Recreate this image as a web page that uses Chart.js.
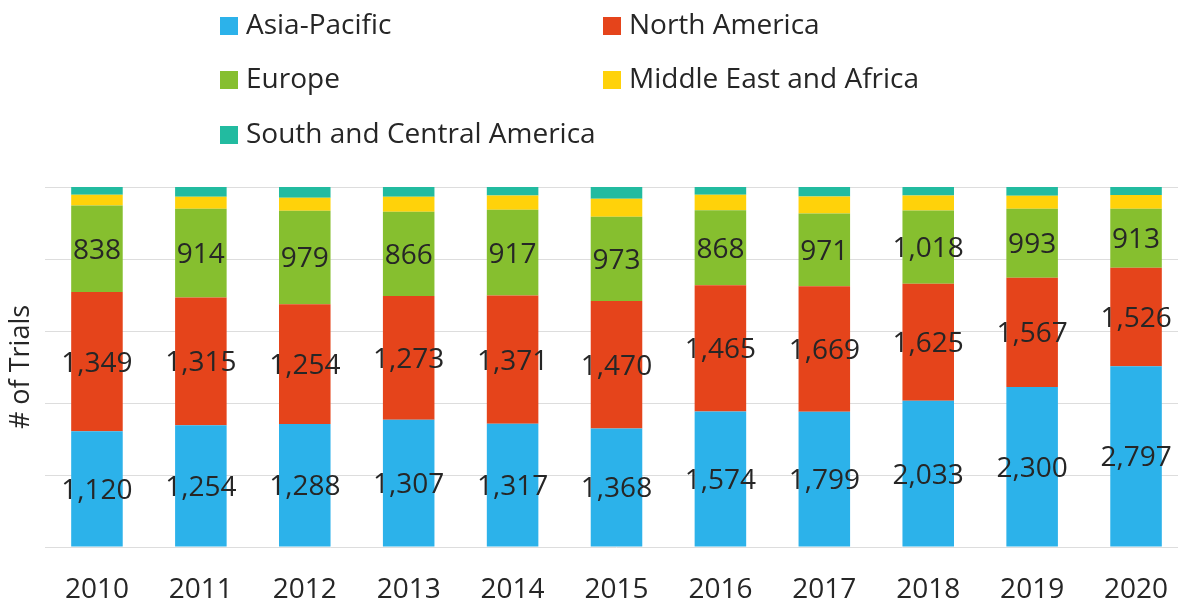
<!DOCTYPE html>
<html>
<head>
<meta charset="utf-8">
<script src="https://cdn.jsdelivr.net/npm/chart.js"></script>
<style>
  html, body { margin: 0; padding: 0; background: #fff; overflow: hidden; }
  #wrap { width: 1178px; height: 601px; overflow: hidden; }
  canvas { display: block; }
</style>
</head>
<body>
<div id="wrap"><canvas id="trialsChart" width="1188" height="601"></canvas></div>
<script>
// --- data ---
const years = ['2010', '2011', '2012', '2013', '2014', '2015', '2016', '2017', '2018', '2019', '2020'];
const asiaPacific = [1120, 1254, 1288, 1307, 1317, 1368, 1574, 1799, 2033, 2300, 2797];
const northAmerica = [1349, 1315, 1254, 1273, 1371, 1470, 1465, 1669, 1625, 1567, 1526];
const europe = [838, 914, 979, 866, 917, 973, 868, 971, 1018, 993, 913];
// not labelled in the picture
const middleEastAfrica = [104, 123, 136, 154, 153, 208, 182, 226, 208, 187, 212];
const southCentralAmerica = [75, 100, 112, 100, 90, 135, 89, 125, 117, 125, 124];

const seriesNames = ['Asia-Pacific', 'North America', 'Europe', 'Middle East and Africa', 'South and Central America'];
const seriesColors = ['#2CB2EA', '#E5441B', '#86BF2F', '#FFD20A', '#22BBA0'];
const seriesValues = [asiaPacific, northAmerica, europe, middleEastAfrica, southCentralAmerica];
const labelledSeries = 3; // only the first three carry value labels

const FONT = "'Open Sans', sans-serif";
const TEXT_COLOR = '#262626';

// 100% stacked: turn counts into shares of each year's total
const totals = years.map((_, i) => seriesValues.reduce((sum, s) => sum + s[i], 0));
const datasets = seriesValues.map((vals, k) => ({
    label: seriesNames[k],
    data: vals.map((v, i) => v / totals[i] * 100),
    backgroundColor: seriesColors[k],
    borderWidth: 0,
    barPercentage: 1,
    categoryPercentage: 0.496
}));

// legend laid out as a two column grid, like the original
const gridLegend = {
    id: 'gridLegend',
    afterDraw(chart) {
        const ctx = chart.ctx;
        const cols = [220, 603];
        const rows = [26, 80, 135];
        ctx.save();
        ctx.font = `28px ${FONT}`;
        ctx.textBaseline = 'middle';
        ctx.textAlign = 'left';
        seriesNames.forEach((name, k) => {
            const x = cols[k % 2];
            const y = rows[Math.floor(k / 2)];
            ctx.fillStyle = seriesColors[k];
            ctx.fillRect(x, y - 9, 18, 18);
            ctx.fillStyle = TEXT_COLOR;
            ctx.fillText(name, x + 26, y);
        });
        ctx.restore();
    }
};

// value labels centred in each segment
const segmentLabels = {
    id: 'segmentLabels',
    afterDatasetsDraw(chart) {
        const ctx = chart.ctx;
        ctx.save();
        ctx.font = `28px ${FONT}`;
        ctx.fillStyle = TEXT_COLOR;
        ctx.textAlign = 'center';
        ctx.textBaseline = 'middle';
        for (let k = 0; k < labelledSeries; k++) {
            const meta = chart.getDatasetMeta(k);
            meta.data.forEach((bar, i) => {
                const y = (bar.y + bar.base) / 2;
                ctx.fillText(seriesValues[k][i].toLocaleString('en-US'), bar.x, y + 2);
            });
        }
        ctx.restore();
    }
};

new Chart(document.getElementById('trialsChart').getContext('2d'), {
    type: 'bar',
    data: { labels: years, datasets: datasets },
    options: {
        responsive: false,
        animation: false,
        layout: { padding: { top: 187, left: 0, right: 0, bottom: 0 } },
        plugins: {
            legend: { display: false },
            tooltip: { enabled: false }
        },
        scales: {
            x: {
                stacked: true,
                grid: { display: false },
                border: { display: false },
                ticks: { color: TEXT_COLOR, font: { family: FONT, size: 28 }, padding: 18 },
                afterFit(scale) { scale.height = 54; }
            },
            y: {
                stacked: true,
                min: 0,
                max: 100,
                ticks: { display: false, stepSize: 20 },
                grid: { color: '#DDDDDD', lineWidth: 1, drawTicks: false },
                border: { display: false },
                title: {
                    display: true,
                    text: '# of Trials',
                    color: TEXT_COLOR,
                    font: { family: FONT, size: 27 },
                    padding: { top: 5, bottom: 0 }
                },
                afterFit(scale) { scale.width = 45; }
            }
        }
    },
    plugins: [gridLegend, segmentLabels]
});
</script>
</body>
</html>
